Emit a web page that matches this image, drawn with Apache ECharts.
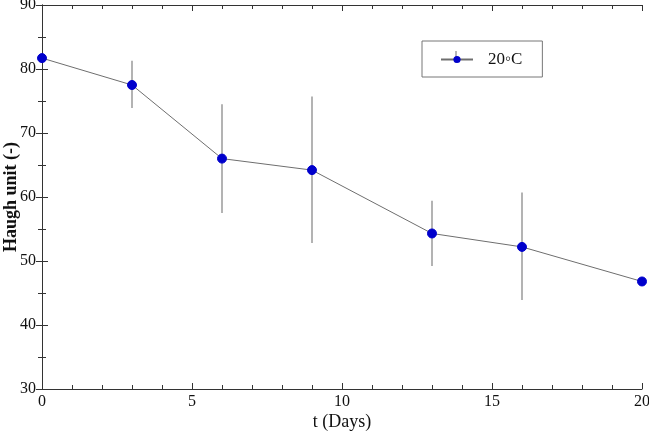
<!DOCTYPE html>
<html><head><meta charset="utf-8">
<script src="https://cdn.jsdelivr.net/npm/echarts@6/dist/echarts.min.js"></script>
<style>html,body{margin:0;padding:0;background:#fff}#c{width:649px;height:431px}</style>
</head><body><div id="c"></div>
<script>
var days = [0, 3, 6, 9, 13, 16, 20];
var haugh = [81.7, 77.5, 66.0, 64.2, 54.3, 52.2, 46.8];
var errLow = [81.7, 73.9, 57.5, 52.8, 49.2, 43.9, 46.8];
var errHigh = [81.7, 81.3, 74.5, 75.7, 59.4, 60.7, 46.8];
var seriesName = '20◦C';

var FONT = '"Liberation Serif", "Times New Roman", serif';
var chart = echarts.init(document.getElementById('c'));
var lineData = days.map(function (d, i) { return [d, haugh[i]]; });
var errData = days.map(function (d, i) { return [d, errLow[i], errHigh[i]]; });

var axisCommon = {
  axisLine: { show: true, lineStyle: { color: '#333', width: 1 } },
  axisTick: { show: true, inside: true, length: 6, lineStyle: { color: '#333' } },
  splitLine: { show: false },
  minorSplitLine: { show: false }
};

chart.setOption({
  animation: false,
  grid: { left: 42, right: 7, top: 5, bottom: 42, containLabel: false, outerBoundsMode: 'none' },
  xAxis: [
    Object.assign({}, axisCommon, {
      type: 'value', min: 0, max: 20, interval: 5, position: 'bottom',
      minorTick: { show: true, splitNumber: 5, length: 4, lineStyle: { color: '#333' } },
      axisLabel: { fontFamily: FONT, fontSize: 16, color: '#111', margin: 5 },
      name: 't (Days)', nameLocation: 'middle', nameGap: 24, nameMoveOverlap: false,
      nameTextStyle: { fontFamily: FONT, fontSize: 18, color: '#111' }
    }),
    Object.assign({}, axisCommon, {
      type: 'value', min: 0, max: 20, interval: 5, position: 'top',
      minorTick: { show: true, splitNumber: 5, length: 4, lineStyle: { color: '#333' } },
      axisLabel: { show: false }
    })
  ],
  yAxis: [
    Object.assign({}, axisCommon, {
      type: 'value', min: 30, max: 90, interval: 10, position: 'left',
      minorTick: { show: true, splitNumber: 2, length: 4, lineStyle: { color: '#333' } },
      axisLabel: { fontFamily: FONT, fontSize: 16, color: '#111', margin: 6 },
      name: 'Haugh unit (-)', nameLocation: 'middle', nameGap: 22, nameMoveOverlap: false,
      nameTextStyle: { fontFamily: FONT, fontSize: 18, fontWeight: 'bold', color: '#111' }
    }),
    Object.assign({}, axisCommon, {
      type: 'value', min: 30, max: 90, interval: 10, position: 'right',
      minorTick: { show: true, splitNumber: 2, length: 4, lineStyle: { color: '#333' } },
      axisLabel: { show: false }
    })
  ],
  legend: {
    left: 422, top: 41, orient: 'horizontal',
    padding: [10, 20, 9, 18],
    itemWidth: 32, itemHeight: 9, itemGap: 10,
    borderColor: '#777', borderWidth: 1,
    textStyle: { fontFamily: FONT, fontSize: 17, color: '#111', padding: [0, 0, 0, 10] },
    data: [{ name: seriesName }]
  },
  series: [
    {
      type: 'custom', name: 'err', xAxisIndex: 0, yAxisIndex: 0,
      data: errData, z: 1, silent: true,
      renderItem: function (params, api) {
        var x = api.value(0);
        var p1 = api.coord([x, api.value(1)]);
        var p2 = api.coord([x, api.value(2)]);
        return {
          type: 'line',
          shape: { x1: p1[0], y1: p1[1], x2: p2[0], y2: p2[1] },
          style: { stroke: '#8a8a8a', lineWidth: 1.3 }
        };
      }
    },
    {
      type: 'line', name: seriesName, data: lineData, z: 3,
      symbol: 'circle', symbolSize: 9,
      lineStyle: { color: '#6e6e6e', width: 1 },
      itemStyle: { color: '#0000cc', borderColor: '#0000cc' }
    }
  ],
  graphic: [
    { type: 'line', z: -1, zlevel: 0, shape: { x1: 456, y1: 51, x2: 456, y2: 63 }, style: { stroke: '#6e6e6e', lineWidth: 1 } }
  ]
});
</script></body></html>
